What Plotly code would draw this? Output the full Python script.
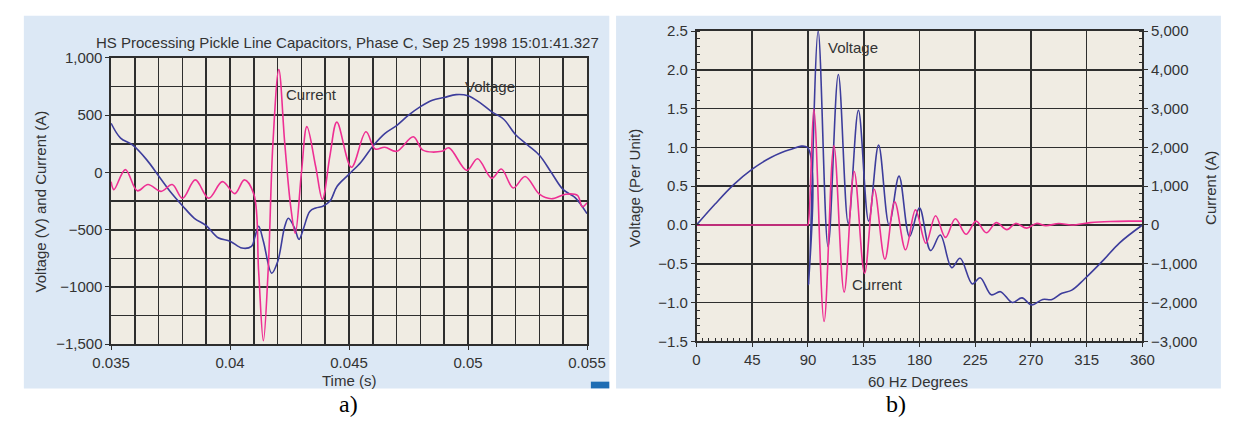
import plotly.graph_objects as go

# ---------------- Panel a) data ----------------
time_v = [0.0350, 0.0354, 0.0359, 0.0365, 0.0370, 0.0375, 0.0380, 0.0385, 0.0390, 0.0395,
          0.0400, 0.0405, 0.0409, 0.04105, 0.0412, 0.0414, 0.04175, 0.0420, 0.0423, 0.04245,
          0.0427, 0.0429, 0.0431, 0.04335, 0.0436, 0.0439, 0.0442, 0.0445, 0.0450, 0.0455,
          0.0460, 0.0465, 0.0470, 0.0475, 0.0480, 0.0485, 0.0490, 0.0495, 0.0500, 0.0505,
          0.0510, 0.0515, 0.0520, 0.0525, 0.0530, 0.0535, 0.0540, 0.0545, 0.0550]
voltage_a = [430, 300, 240, 110, -30, -170, -290, -400, -465, -570,
             -600, -660, -645, -560, -470, -600, -880, -780, -470, -400,
             -480, -585, -480, -340, -310, -295, -250, -120, -15, 90,
             230, 340, 410, 500, 575, 630, 655, 680, 670, 610,
             530, 465, 330, 240, 150, 0, -150, -220, -360]

time_i = [0.0350, 0.03512, 0.0356, 0.0361, 0.03655, 0.0371, 0.03757, 0.0380, 0.03854, 0.0391,
          0.03968, 0.0402, 0.0406, 0.0410, 0.0412, 0.0414, 0.0416, 0.0418, 0.04205, 0.0423,
          0.04255, 0.04274, 0.0430, 0.04323, 0.0436, 0.04388, 0.0442, 0.04449, 0.0451, 0.04571,
          0.0461, 0.0465, 0.0470, 0.0477, 0.0481, 0.0489, 0.0492, 0.04995, 0.0504, 0.0510,
          0.0514, 0.0519, 0.0524, 0.0530, 0.0535, 0.0541, 0.0546, 0.0548, 0.0550]
current_a = [-80, -150, 25, -160, -105, -165, -105, -225, -65, -225,
             -80, -185, -65, -190, -860, -1470, -860, 250, 900, 250,
             -300, -530, 0, 400, 50, -235, 150, 440, 45, 355,
             205, 220, 185, 312, 195, 185, 215, 18, 120, -50,
             30, -135, -35, -190, -230, -190, -200, -300, -265]

# ---------------- Panel b) data ----------------
deg_v = [0, 15, 30, 45, 60, 75, 89.5, 90.6, 98.2, 106.2, 114.5, 122.5, 130.7, 139, 147,
         155.5, 163.5, 172, 180, 189, 196.8, 206, 212.8, 222.7, 229, 238, 245.4, 255,
         262.8, 270.5, 279.5, 287, 295, 303, 313, 328.7, 341.6, 360]
voltage_pu = [0.0, 0.27, 0.52, 0.72, 0.87, 0.97, 1.0, -0.77, 2.5, -0.28, 1.94, 0.02, 1.48, 0.05, 1.03,
              0.0, 0.63, -0.15, 0.22, -0.33, -0.13, -0.55, -0.43, -0.76, -0.68, -0.90, -0.86, -1.0,
              -0.94, -1.03, -0.96, -0.96, -0.88, -0.84, -0.70, -0.45, -0.23, 0.0]

deg_i = [0, 89.5, 90, 94.7, 103, 110.9, 119.2, 127.3, 135.7, 143.5, 152.1, 160, 168.8, 176.8,
         185.2, 193, 201, 209, 217.6, 225.7, 234, 242, 250.6, 257.6, 266.6, 274.4, 282, 292.5,
         303, 318, 334, 349, 360]
current_b = [0, 0, 0, 2980, -2490, 2040, -1730, 1380, -1250, 920, -880, 600, -640, 390,
             -470, 240, -320, 160, -240, 100, -200, 60, -120, 40, -80, 40, -20, 40,
             0, 60, 90, 100, 100]

# tick labels
a_xticks = [0.035, 0.04, 0.045, 0.05, 0.055]
a_xtext = ["0.035", "0.04", "0.045", "0.05", "0.055"]
a_yticks = [-1500, -1000, -500, 0, 500, 1000]
a_ytext = ["\u22121,500", "\u22121000", "\u2212500", "0", "500", "1,000"]
b_xticks = [0, 45, 90, 135, 180, 225, 270, 315, 360]
b_yticks = [-1.5, -1.0, -0.5, 0.0, 0.5, 1.0, 1.5, 2.0, 2.5]
b_ytext = ["\u22121.5", "\u22121.0", "\u22120.5", "0.0", "0.5", "1.0", "1.5", "2.0", "2.5"]
b_y2ticks = [-3000, -2000, -1000, 0, 1000, 2000, 3000, 4000, 5000]
b_y2text = ["\u22123,000", "\u22122,000", "\u22121,000", "0", "1,000", "2,000", "3,000", "4,000", "5,000"]

W, H = 1237, 430
BLUE_BG = "#dce8f5"
BEIGE = "#f0ece3"
GRID = "#2e2e2e"
VCOL = "#3d3d9c"
ICOL = "#ee2f93"
TXT = "#333333"
FONT = "Liberation Sans, Arial, sans-serif"

def px(x):
    return x / W

def py(y):
    return 1 - y / H

# plot areas in window pixels
A = dict(x0=95, x1=586, y0=51, y1=349)
B = dict(x0=699, x1=1159, y0=23, y1=346)

fig = go.Figure()
fig.add_trace(go.Scatter(x=time_v, y=voltage_a, mode="lines", line=dict(color=VCOL, width=1.6, shape="spline"),
                         xaxis="x", yaxis="y", showlegend=False, hoverinfo="skip"))
fig.add_trace(go.Scatter(x=time_i, y=current_a, mode="lines", line=dict(color=ICOL, width=1.6, shape="spline"),
                         xaxis="x", yaxis="y", showlegend=False, hoverinfo="skip"))
fig.add_trace(go.Scatter(x=deg_i, y=current_b, mode="lines", line=dict(color=ICOL, width=1.6, shape="spline"),
                         xaxis="x2", yaxis="y3", showlegend=False, hoverinfo="skip"))
fig.add_trace(go.Scatter(x=deg_v, y=voltage_pu, mode="lines", line=dict(color=VCOL, width=1.6, shape="spline"),
                         xaxis="x2", yaxis="y2", showlegend=False, hoverinfo="skip"))

shapes = [
    dict(type="rect", xref="paper", yref="paper", x0=px(5), x1=px(609), y0=py(395), y1=py(7),
         fillcolor=BLUE_BG, line=dict(width=0), layer="below"),
    dict(type="rect", xref="paper", yref="paper", x0=px(616), x1=px(1240), y0=py(395), y1=py(7),
         fillcolor=BLUE_BG, line=dict(width=0), layer="below"),
    dict(type="rect", xref="paper", yref="paper", x0=px(590), x1=px(609), y0=py(395), y1=py(388),
         fillcolor="#1f6db3", line=dict(width=0), layer="below"),
    dict(type="rect", xref="paper", yref="paper", x0=px(A["x0"]), x1=px(A["x1"]), y0=py(A["y1"]), y1=py(A["y0"]),
         fillcolor=BEIGE, line=dict(width=0), layer="below"),
    dict(type="rect", xref="paper", yref="paper", x0=px(B["x0"]), x1=px(B["x1"]), y0=py(B["y1"]), y1=py(B["y0"]),
         fillcolor=BEIGE, line=dict(width=0), layer="below"),
]

tickfont = dict(family=FONT, size=15, color=TXT)
common = dict(showline=True, linecolor=GRID, linewidth=1.6, mirror=True, zeroline=False,
              ticks="outside", ticklen=4, tickcolor=GRID, tickfont=tickfont,
              showgrid=True, gridcolor=GRID, gridwidth=1.6, tickmode="array")

fig.update_layout(
    width=W, height=H, margin=dict(l=0, r=0, t=0, b=0),
    paper_bgcolor="white", plot_bgcolor="rgba(0,0,0,0)",
    shapes=shapes, hovermode=False,
    xaxis=dict(domain=[px(A["x0"]), px(A["x1"])], anchor="y", range=[0.035, 0.055],
               tickvals=a_xticks, ticktext=a_xtext,
               minor=dict(dtick=0.001, tick0=0.035, showgrid=True, gridcolor=GRID, gridwidth=1.6, ticks=""),
               **common),
    yaxis=dict(domain=[py(A["y1"]), py(A["y0"])], anchor="x", range=[-1500, 1000],
               tickvals=a_yticks, ticktext=a_ytext,
               minor=dict(dtick=250, tick0=0, showgrid=True, gridcolor=GRID, gridwidth=1.6, ticks=""),
               **common),
    xaxis2=dict(domain=[px(B["x0"]), px(B["x1"])], anchor="y2", range=[0, 360],
                tickvals=b_xticks, ticktext=[str(v) for v in b_xticks],
                minor=dict(dtick=5, tick0=0, ticks="inside", ticklen=3, tickcolor=GRID, showgrid=False),
                **common),
    yaxis2=dict(domain=[py(B["y1"]), py(B["y0"])], anchor="x2", range=[-1.5, 2.5],
                tickvals=b_yticks, ticktext=b_ytext,
                minor=dict(dtick=0.1, tick0=0, ticks="inside", ticklen=3, tickcolor=GRID, showgrid=False),
                **common),
    yaxis3=dict(overlaying="y2", side="right", anchor="x2", range=[-3000, 5000],
                tickvals=b_y2ticks, ticktext=b_y2text, showline=True, linecolor=GRID, linewidth=1.6,
                zeroline=False, showgrid=False, ticks="outside", ticklen=4, tickcolor=GRID,
                tickfont=tickfont, tickmode="array",
                minor=dict(dtick=200, tick0=0, ticks="inside", ticklen=3, tickcolor=GRID, showgrid=False)),
)

ann_font = dict(family=FONT, size=15, color=TXT)
annotations = [
    dict(text="HS Processing Pickle Line Capacitors, Phase C, Sep 25 1998 15:01:41.327",
         x=px(339), y=py(35), xref="paper", yref="paper", showarrow=False, font=ann_font,
         xanchor="center", yanchor="middle"),
    dict(text="Time (s)", x=px(340), y=py(387), xref="paper", yref="paper", showarrow=False,
         font=ann_font, xanchor="center", yanchor="middle"),
    dict(text="Voltage (V) and Current (A)", x=px(22), y=py(200), xref="paper", yref="paper",
         showarrow=False, font=ann_font, textangle=-90, xanchor="center", yanchor="middle"),
    dict(text="Current", x=0.04343, y=681, xref="x", yref="y", showarrow=False, font=ann_font),
    dict(text="Voltage", x=0.05093, y=748, xref="x", yref="y", showarrow=False, font=ann_font),
    dict(text="60 Hz Degrees", x=px(928), y=py(388), xref="paper", yref="paper", showarrow=False,
         font=ann_font, xanchor="center", yanchor="middle"),
    dict(text="Voltage (Per Unit)", x=px(635), y=py(186), xref="paper", yref="paper", showarrow=False,
         font=ann_font, textangle=-90, xanchor="center", yanchor="middle"),
    dict(text="Current (A)", x=px(1229), y=py(186), xref="paper", yref="paper", showarrow=False,
         font=ann_font, textangle=-90, xanchor="center", yanchor="middle"),
    dict(text="Voltage", x=126, y=2.29, xref="x2", yref="y2", showarrow=False, font=ann_font),
    dict(text="Current", x=146, y=-0.77, xref="x2", yref="y2", showarrow=False, font=ann_font),
    dict(text="a)", x=px(340), y=py(411), xref="paper", yref="paper", showarrow=False,
         font=dict(family="Liberation Serif, Times New Roman, serif", size=24, color="black"),
         xanchor="center", yanchor="middle"),
    dict(text="b)", x=px(905), y=py(411), xref="paper", yref="paper", showarrow=False,
         font=dict(family="Liberation Serif, Times New Roman, serif", size=24, color="black"),
         xanchor="center", yanchor="middle"),
]
fig.update_layout(annotations=annotations)

fig.write_html("out.html", config={"displayModeBar": False, "staticPlot": True},
               post_script="document.body.style.margin='0';document.body.style.padding='0';"
                           "document.documentElement.style.overflow='hidden';")
